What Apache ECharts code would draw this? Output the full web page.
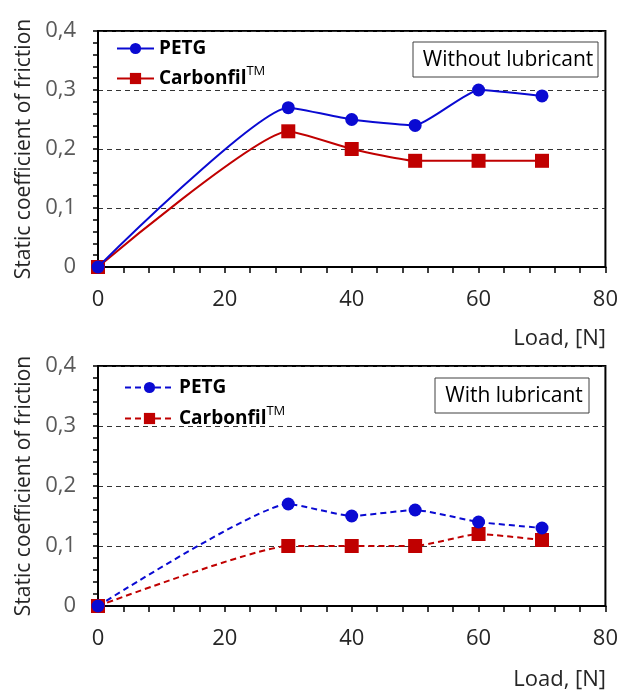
<!DOCTYPE html>
<html>
<head>
<meta charset="utf-8">
<script src="https://cdn.jsdelivr.net/npm/echarts@6/dist/echarts.min.js"></script>
<style>html,body{margin:0;padding:0;background:#fff;}#c{width:621px;height:691px;}</style>
</head>
<body>
<div id="c"></div>
<script>
// Data
var loads = [0, 30, 40, 50, 60, 70];
var petgDry = [0, 0.27, 0.25, 0.24, 0.30, 0.29];
var carbonDry = [0, 0.23, 0.20, 0.18, 0.18, 0.18];
var petgLub = [0, 0.17, 0.15, 0.16, 0.14, 0.13];
var carbonLub = [0, 0.10, 0.10, 0.10, 0.12, 0.11];
var seriesNames = ['PETG', 'Carbonfil'];
var panelLabels = ['Without lubricant', 'With lubricant'];
var xTitle = 'Load, [N]';
var yTitle = 'Static coefficient of friction';

function pairs(xs, ys) { return xs.map(function (x, i) { return [x, ys[i]]; }); }

var FONT = 'Open Sans';
var BLUE = '#0a0ad2';
var RED = '#c00000';

var grids = [
  { left: 98, top: 31, width: 508, height: 236 },
  { left: 98, top: 366, width: 508, height: 240 }
];

function xAx(gi) {
  return {
    type: 'value', gridIndex: gi, min: 0, max: 80, interval: 20,
    axisLine: { show: true, onZero: false, lineStyle: { color: '#000', width: 2 } },
    axisTick: { show: true, inside: false, length: 6, lineStyle: { color: '#000', width: 1.5 } },
    minorTick: { show: true, splitNumber: 5, length: 6, lineStyle: { color: '#000', width: 1.5 } },
    axisLabel: { color: '#262626', fontSize: 22, fontFamily: FONT, margin: 22 },
    splitLine: { show: false }
  };
}
function yAx(gi) {
  return {
    type: 'value', gridIndex: gi, min: 0, max: 0.4, interval: 0.1,
    name: yTitle, nameLocation: 'middle', nameGap: 63,
    nameTextStyle: { color: '#262626', fontSize: 21, fontFamily: FONT },
    axisLine: { show: true, lineStyle: { color: '#000', width: 2 } },
    axisTick: { show: true, inside: false, length: 5, lineStyle: { color: '#000', width: 1.5 } },
    minorTick: { show: true, splitNumber: 5, length: 5, lineStyle: { color: '#000', width: 1.5 } },
    axisLabel: {
      color: '#595959', fontSize: 22, fontFamily: FONT, margin: 22,
      formatter: function (v) { return v === 0 ? '0' : v.toFixed(1).replace('.', ','); }
    },
    splitLine: { show: true, lineStyle: { color: '#333', width: 1, type: [5, 4] } }
  };
}

function ser(name, data, gi, color, symbol, size, dashed) {
  return {
    type: 'line', name: name, xAxisIndex: gi, yAxisIndex: gi,
    data: data, smooth: 0.15, symbol: symbol, symbolSize: size,
    lineStyle: { color: color, width: 2, type: dashed ? [6, 4] : 'solid' },
    itemStyle: { color: color },
    z: symbol === 'rect' ? 3 : 4
  };
}

var legendText = {
  fontSize: 19, fontWeight: 'bold', color: '#000', fontFamily: FONT,
  rich: { tm: { fontSize: 13, fontWeight: 'normal', color: '#000', fontFamily: FONT, padding: [0, 0, 14, 0] } }
};
function legendFmt(n) { return n.indexOf('Carbonfil') === 0 ? 'Carbonfil{tm|TM}' : n; }

var chart = echarts.init(document.getElementById('c'), null, { renderer: 'canvas' });
chart.setOption({
  backgroundColor: '#fff',
  animation: false,
  grid: grids.map(function (g) { return Object.assign({ show: true, borderColor: '#000', borderWidth: 2, backgroundColor: 'transparent' }, g); }),
  xAxis: [xAx(0), xAx(1)],
  yAxis: [yAx(0), yAx(1)],
  legend: [
    { data: [seriesNames[0], seriesNames[1] + ' '], orient: 'vertical', left: 116, top: 39, padding: 0, itemWidth: 37, itemHeight: 14, itemGap: 7, textStyle: legendText, formatter: legendFmt },
    { data: [seriesNames[0] + '  ', seriesNames[1] + '   '], orient: 'vertical', left: 124, top: 378, padding: 0, itemWidth: 49, itemHeight: 14, itemGap: 8, textStyle: legendText, formatter: function (n) { return legendFmt(n.trim()); } }
  ],
  series: [
    ser(seriesNames[0], pairs(loads, petgDry), 0, BLUE, 'circle', 13, false),
    ser(seriesNames[1] + ' ', pairs(loads, carbonDry), 0, RED, 'rect', 14, false),
    ser(seriesNames[0] + '  ', pairs(loads, petgLub), 1, BLUE, 'circle', 13, true),
    ser(seriesNames[1] + '   ', pairs(loads, carbonLub), 1, RED, 'rect', 14, true)
  ],
  graphic: [
    { type: 'rect', shape: { x: 413, y: 42, width: 185, height: 35 }, style: { fill: '#fff', stroke: '#404040', lineWidth: 1 }, z: 10 },
    { type: 'text', x: 508, y: 60, style: { text: panelLabels[0], fontSize: 21, fontFamily: FONT, fill: '#000', align: 'center', verticalAlign: 'middle' }, z: 11 },
    { type: 'rect', shape: { x: 435, y: 378, width: 154, height: 35 }, style: { fill: '#fff', stroke: '#404040', lineWidth: 1 }, z: 10 },
    { type: 'text', x: 514, y: 396, style: { text: panelLabels[1], fontSize: 21, fontFamily: FONT, fill: '#000', align: 'center', verticalAlign: 'middle' }, z: 11 },
    { type: 'text', x: 606, y: 339, style: { text: xTitle, fontSize: 22, fontFamily: FONT, fill: '#262626', align: 'right', verticalAlign: 'middle' } },
    { type: 'text', x: 606, y: 680, style: { text: xTitle, fontSize: 22, fontFamily: FONT, fill: '#262626', align: 'right', verticalAlign: 'middle' } }
  ]
});
</script>
</body>
</html>
